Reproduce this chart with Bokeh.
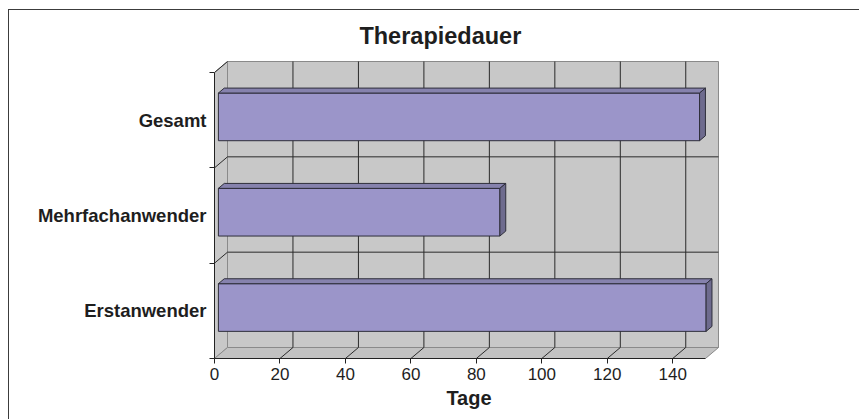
from bokeh.plotting import figure
from bokeh.models import Range1d, FixedTicker, Spacer
from bokeh.layouts import column, row
from bokeh.core.properties import value
from bokeh.embed import file_html
from bokeh.resources import INLINE

# ---- data ----
categories = ["Erstanwender", "Mehrfachanwender", "Gesamt"]
tage = [149, 86, 147]
x_ticks = [0, 20, 40, 60, 80, 100, 120, 140]
x_max = 150
title_text = "Therapiedauer"
x_label = "Tage"

# ---- geometry / style ----
FONT = "Liberation Sans"
TXT = "#1e1e1e"
FRAME_W, FRAME_H = 509, 342
X_END = 155.5
Y_END = 3.5875
sx = FRAME_W / X_END
sy = FRAME_H / Y_END
DX = 13 / sx           # 3D depth offset (x units)
DY = 11 / sy           # 3D depth offset (y units)
n = len(categories)
centers = [i + 0.5 for i in range(n)]
BAR_H = 0.5
B0 = 0.30              # bar front depth fraction
BD = 0.45              # bar depth fraction

fig = figure(width=851, height=410, output_backend="svg", toolbar_location=None,
             x_range=Range1d(0, X_END), y_range=Range1d(0, Y_END),
             min_border_left=205, min_border_right=137, min_border_top=6,
             min_border_bottom=62)
fig.outline_line_color = None
fig.border_fill_color = "white"
fig.xgrid.visible = False
fig.ygrid.visible = False
fig.styles = {"border-top": "1px solid #3c3c3c", "border-left": "1px solid #3c3c3c"}

WALL = "#c8c8c8"
FLOOR = "#c2c2c2"
EDGE = "#8a8a8a"
GRID = "#2a2a2a"

# back wall
fig.patch([DX, x_max + DX, x_max + DX, DX], [DY, DY, n + DY, n + DY],
          fill_color=WALL, line_color=EDGE, line_width=1)
# left wall
fig.patch([0, DX, DX, 0], [0, DY, n + DY, n], fill_color=WALL, line_color=EDGE, line_width=1)
# floor
fig.patch([0, x_max, x_max + DX, DX], [0, 0, DY, DY], fill_color=FLOOR, line_color=EDGE, line_width=1)

# back wall vertical gridlines + floor diagonals
gx = [t for t in x_ticks if t > 0]
fig.segment(x0=[t + DX for t in gx], y0=[DY] * len(gx), x1=[t + DX for t in gx], y1=[n + DY] * len(gx),
            line_color=GRID, line_width=1)
fig.segment(x0=gx, y0=[0] * len(gx), x1=[t + DX for t in gx], y1=[DY] * len(gx),
            line_color=GRID, line_width=1)
# back wall horizontal gridlines + left wall diagonals
gy = list(range(1, n))
fig.segment(x0=[DX] * len(gy), y0=[g + DY for g in gy], x1=[x_max + DX] * len(gy), y1=[g + DY for g in gy],
            line_color=GRID, line_width=1)
gyl = list(range(1, n + 1))
fig.segment(x0=[0] * len(gyl), y0=gyl, x1=[DX] * len(gyl), y1=[g + DY for g in gyl],
            line_color=GRID, line_width=1)

# bars (front face, top face, side face)
fx, fy = B0 * DX, B0 * DY
bx, by = BD * DX, BD * DY
left = [fx] * n
right = [v + fx for v in tage]
bottom = [c - BAR_H / 2 + fy for c in centers]
top = [c + BAR_H / 2 + fy for c in centers]
BAR_LINE = "#2e2e3a"
fig.quad(left=left, right=right, bottom=bottom, top=top,
         fill_color="#9b95c9", line_color=BAR_LINE, line_width=1)
fig.patches(xs=[[l, r, r + bx, l + bx] for l, r in zip(left, right)],
            ys=[[t, t, t + by, t + by] for t in top],
            fill_color="#8682ad", line_color=BAR_LINE, line_width=1)
fig.patches(xs=[[r, r, r + bx, r + bx] for r in right],
            ys=[[b, t, t + by, b + by] for b, t in zip(bottom, top)],
            fill_color="#6e6b8e", line_color=BAR_LINE, line_width=1)

# title
fig.text(x=[69], y=[3.378], text=[title_text], text_align="center", text_baseline="middle",
         text_font=value(FONT), text_font_style="bold", text_font_size="23.5px", text_color=TXT)

# x axis
xa = fig.xaxis[0]
xa.ticker = FixedTicker(ticks=x_ticks)
xa.bounds = (0, x_max)
xa.axis_line_color = "#222222"
xa.major_tick_line_color = "#222222"
xa.major_tick_out = 5
xa.major_tick_in = 0
xa.minor_tick_line_color = None
xa.major_label_standoff = 4
xa.major_label_text_font = FONT
xa.major_label_text_font_size = "17px"
xa.major_label_text_color = TXT
xa.axis_label = x_label
xa.axis_label_text_font = FONT
xa.axis_label_text_font_size = "20px"
xa.axis_label_text_font_style = "bold"
xa.axis_label_text_color = TXT
xa.axis_label_standoff = 4

# y axis
ya = fig.yaxis[0]
ya.ticker = FixedTicker(ticks=centers, minor_ticks=list(range(0, n + 1)))
ya.major_label_overrides = {c: name for c, name in zip(centers, categories)}
ya.bounds = (0, n)
ya.axis_line_color = "#222222"
ya.major_tick_line_color = None
ya.major_tick_out = 0
ya.major_tick_in = 0
ya.minor_tick_line_color = "#222222"
ya.minor_tick_out = 5
ya.minor_tick_in = 0
ya.major_label_standoff = 3
ya.major_label_text_font = FONT
ya.major_label_text_font_size = "18.5px"
ya.major_label_text_font_style = "bold"
ya.major_label_text_color = TXT

p = column(Spacer(height=9), row(Spacer(width=8), fig))

open("out.html", "w").write(file_html(p, INLINE))
